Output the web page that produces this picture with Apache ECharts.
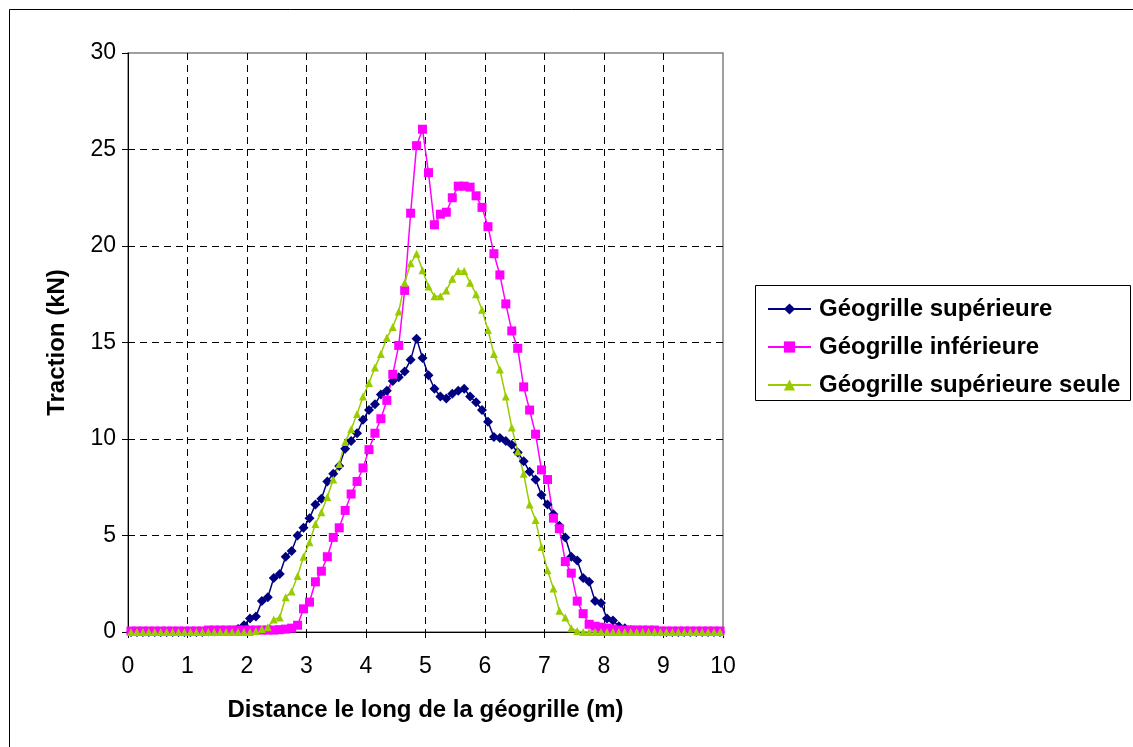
<!DOCTYPE html>
<html>
<head>
<meta charset="utf-8">
<title>Traction le long de la géogrille</title>
<style>
html,body{margin:0;padding:0;background:#fff;}
#main{width:1133px;height:747px;}
</style>
</head>
<body>
<div id="main"></div>
<script src="https://cdn.jsdelivr.net/npm/echarts@6/dist/echarts.min.js"></script>
<script>
// abscisses des points (m)
var distance = [
  0.05,0.15,0.25,0.35,0.45,0.55,0.65,0.75,0.85,0.95,
  1.05,1.15,1.25,1.35,1.45,1.55,1.65,1.75,1.85,1.95,
  2.05,2.15,2.25,2.35,2.45,2.55,2.65,2.75,2.85,2.95,
  3.05,3.15,3.25,3.35,3.45,3.55,3.65,3.75,3.85,3.95,
  4.05,4.15,4.25,4.35,4.45,4.55,4.65,4.75,4.85,4.95,
  5.05,5.15,5.25,5.35,5.45,5.55,5.65,5.75,5.85,5.95,
  6.05,6.15,6.25,6.35,6.45,6.55,6.65,6.75,6.85,6.95,
  7.05,7.15,7.25,7.35,7.45,7.55,7.65,7.75,7.85,7.95,
  8.05,8.15,8.25,8.35,8.45,8.55,8.65,8.75,8.85,8.95,
  9.05,9.15,9.25,9.35,9.45,9.55,9.65,9.75,9.85,9.95
];
// Géogrille supérieure (kN)
var superieure = [
  0,0,0,0,0,0,0,0,0,0,
  0,0,0,0.02,0.03,0.05,0.05,0.08,0.15,0.35,
  0.7,0.8,1.6,1.8,2.8,3.0,3.9,4.2,5.0,5.4,
  5.9,6.6,6.9,7.8,8.2,8.6,9.5,9.9,10.3,11.0,
  11.5,11.8,12.3,12.5,13.0,13.2,13.5,14.1,15.2,14.2,
  13.3,12.6,12.2,12.1,12.35,12.5,12.6,12.2,11.9,11.5,
  10.9,10.1,10.05,9.9,9.7,9.3,8.85,8.3,7.9,7.1,
  6.6,6.1,5.5,4.9,3.9,3.7,2.8,2.6,1.6,1.5,
  0.7,0.6,0.3,0.2,0.1,0.08,0.05,0.05,0.03,0.02,
  0,0,0,0,0,0,0,0,0,0
];
// Géogrille inférieure (kN)
var inferieure = [
  0.05,0.05,0.05,0.05,0.05,0.05,0.05,0.05,0.05,0.05,
  0.05,0.05,0.05,0.1,0.1,0.1,0.1,0.1,0.1,0.1,
  0.1,0.1,0.1,0.1,0.1,0.12,0.15,0.2,0.35,1.2,
  1.55,2.6,3.15,3.9,4.9,5.4,6.3,7.15,7.8,8.5,
  9.45,10.3,11.05,12.0,13.35,14.85,17.7,21.7,25.2,26.05,
  23.8,21.1,21.65,21.75,22.5,23.1,23.1,23.05,22.6,22.0,
  21.0,19.6,18.5,17.0,15.6,14.7,12.7,11.5,10.25,8.4,
  7.9,5.9,5.35,3.65,3.05,1.6,0.95,0.4,0.3,0.25,
  0.2,0.15,0.1,0.1,0.1,0.1,0.1,0.1,0.1,0.05,
  0.05,0.05,0.05,0.05,0.05,0.05,0.05,0.05,0.05,0.05
];
// Géogrille supérieure seule (kN)
var superieureSeule = [
  0,0,0,0,0,0,0,0,0,0,
  0,0,0,0,0,0,0,0,0,0,
  0,0.05,0.15,0.25,0.65,0.75,1.8,2.1,2.9,3.9,
  4.65,5.6,6.2,7.0,7.9,8.7,9.85,10.5,11.3,12.2,
  12.9,13.7,14.4,15.25,15.8,16.6,18.1,19.1,19.6,18.75,
  17.9,17.4,17.4,17.7,18.3,18.7,18.7,18.1,17.5,16.7,
  15.65,14.4,13.6,12.2,10.6,9.35,8.2,6.6,5.8,4.4,
  3.2,2.25,1.1,0.75,0.2,0.05,0,0,0,0,
  0,0,0,0,0,0,0,0,0,0,
  0,0,0,0,0,0,0,0,0,0
];
var noms = ['Géogrille supérieure', 'Géogrille inférieure', 'Géogrille supérieure seule'];
var couleurs = ['#000080', '#FF00FF', '#99CC00'];
var symboles = ['diamond', 'rect', 'triangle'];
var tailles = [10, 9, 8];

function paires(vals) {
    var out = [];
    for (var i = 0; i < distance.length; i++) {
        out.push([distance[i], vals[i]]);
    }
    return out;
}

var police = "'Liberation Sans', Arial, sans-serif";
var tirets = [7, 5];

var myChart = echarts.init(document.getElementById('main'), null, {renderer: 'canvas'});
var valeurs = [superieure, inferieure, superieureSeule];
var series = [];
for (var s = 0; s < 3; s++) {
    series.push({
        name: noms[s],
        type: 'line',
        data: paires(valeurs[s]),
        symbol: symboles[s],
        symbolSize: tailles[s],
        showAllSymbol: true,
        lineStyle: {color: couleurs[s], width: 1.5},
        itemStyle: {color: couleurs[s]}
    });
}

var option = {
    animation: false,
    backgroundColor: '#fff',
    grid: {
        left: 128, right: 410, top: 53, bottom: 115,
        show: true, borderColor: '#808080', borderWidth: 1.5
    },
    legend: {
        data: noms,
        orient: 'vertical',
        left: 767, top: 297, padding: 0,
        itemWidth: 43, itemHeight: 14, itemGap: 14,
        textStyle: {
            fontFamily: police, fontSize: 24, fontWeight: 'bold',
            color: '#000', lineHeight: 24, padding: [0, 0, 0, 3]
        }
    },
    xAxis: {
        type: 'value', min: 0, max: 10, interval: 1,
        name: 'Distance le long de la géogrille (m)',
        nameLocation: 'middle', nameGap: 66,
        nameTextStyle: {fontFamily: police, fontSize: 24, fontWeight: 'bold', color: '#000'},
        axisLine: {show: true, lineStyle: {color: '#000', width: 1}},
        axisTick: {show: true, length: 6, lineStyle: {color: '#000'}},
        axisLabel: {fontFamily: police, fontSize: 23, color: '#000', margin: 23},
        splitLine: {show: true, showMinLine: false, showMaxLine: false,
                    lineStyle: {color: '#000', type: tirets, width: 1}}
    },
    yAxis: {
        type: 'value', min: 0, max: 30, interval: 5,
        name: 'Traction (kN)',
        nameLocation: 'middle', nameGap: 59,
        nameTextStyle: {fontFamily: police, fontSize: 24, fontWeight: 'bold', color: '#000'},
        axisLine: {show: true, lineStyle: {color: '#000', width: 1}},
        axisTick: {show: true, length: 6, lineStyle: {color: '#000'}},
        axisLabel: {fontFamily: police, fontSize: 23, color: '#000', margin: 12},
        splitLine: {show: true, showMinLine: false, showMaxLine: false,
                    lineStyle: {color: '#000', type: tirets, width: 1}}
    },
    graphic: [
        {type: 'rect', left: 7, top: 7, shape: {width: 1200, height: 800},
         style: {fill: null, stroke: '#000', lineWidth: 1}, silent: true},
        {type: 'rect', left: 753, top: 283, shape: {width: 375, height: 115},
         style: {fill: null, stroke: '#000', lineWidth: 1}, silent: true}
    ],
    series: series
};
myChart.setOption(option);
</script>
</body>
</html>
